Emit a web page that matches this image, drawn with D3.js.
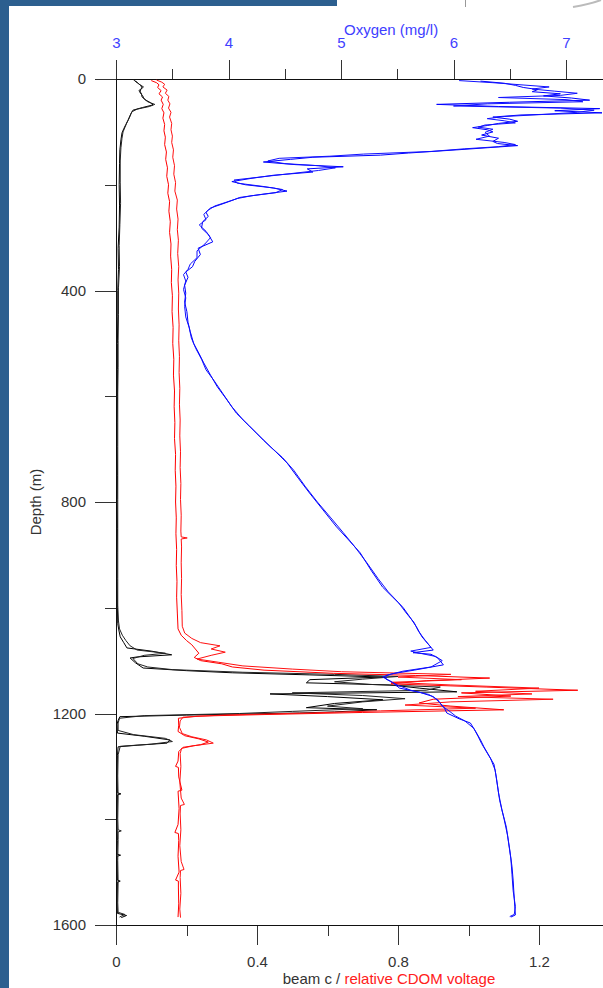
<!DOCTYPE html>
<html>
<meta charset="utf-8">
<style>
  body { margin: 0; background: #fff; }
  svg { display: block; }
  text { font-family: "Liberation Sans", Arial, sans-serif; font-size: 15px; }
  .axis path { display: none; }
  .axis line { stroke: #333; shape-rendering: crispEdges; }
  .trace { fill: none; stroke-width: 1; stroke-linejoin: miter; }
</style>
<body>
  <svg width="603" height="988"></svg>
</body>

<script src="https://cdn.jsdelivr.net/npm/d3@7"></script>

<script>

  // tick values
  var oxyMajor = [3, 4, 5, 6, 7];
  var oxyMinor = [3.5, 4.5, 5.5, 6.5];
  var beamMajor = [0, 0.4, 0.8, 1.2];
  var beamMinor = [0.2, 0.6, 1.0];
  var depthMajor = [0, 400, 800, 1200, 1600];
  var depthMinor = [200, 600, 1000, 1400];

  // [depth m, oxygen mg/l] - down cast and up cast
  var oxyDown = [[4,6.24],[8,6.45],[12,6.55],[16,6.62],[20,6.75],[24,6.70],[28,6.95],[32,6.80],[36,7.05],[40,7.21],[44,6.50],[48,5.85],[52,6.40],[56,7.30],[60,6.90],[64,7.32],[68,6.60],[72,6.35],[76,6.50],[80,6.57],[84,6.40],[88,6.30],[92,6.17],[96,6.30],[100,6.35],[106,6.25],[112,6.40],[118,6.35],[122,6.39],[126,6.57],[130,6.30],[134,6.03],[140,5.60],[144,5.35],[148,4.75],[152,4.55],[157,4.31],[162,4.60],[166,5.02],[170,4.70],[176,4.75],[182,4.40],[188,4.20],[194,4.03],[200,4.15],[206,4.40],[212,4.52],[218,4.30],[224,4.10],[229,4.04],[236,3.95],[244,3.84],[252,3.80],[260,3.82],[270,3.77],[282,3.76],[294,3.82],[308,3.86],[320,3.73],[332,3.75],[345,3.70],[355,3.68],[365,3.62],[375,3.64],[390,3.61],[405,3.62],[422,3.61],[440,3.63],[460,3.64],[478,3.66],[500,3.69],[520,3.74],[537,3.78],[560,3.84],[582,3.90],[605,3.98],[632,4.07],[655,4.18],[683,4.31],[705,4.42],[726,4.52],[755,4.62],[783,4.72],[815,4.84],[847,4.96],[870,5.06],[896,5.17],[930,5.27],[961,5.37],[980,5.46],[999,5.55],[1020,5.62],[1036,5.67],[1055,5.72],[1070,5.78],[1080,5.82],[1085,5.64],[1088,5.80],[1095,5.86],[1108,5.91],[1118,5.65],[1125,5.45],[1131,5.37],[1140,5.45],[1152,5.52],[1160,5.70],[1168,5.82],[1180,5.88],[1190,5.92],[1199,5.94],[1210,6.05],[1218,6.15],[1235,6.20],[1250,6.24],[1263,6.27],[1285,6.33],[1307,6.37],[1335,6.39],[1364,6.41],[1400,6.45],[1430,6.48],[1458,6.50],[1490,6.52],[1515,6.53],[1550,6.54],[1581,6.55],[1585,6.51]];
  var oxyUp = [[3,6.05],[7,6.35],[11,6.60],[15,6.85],[19,6.70],[23,6.90],[27,7.10],[31,6.95],[35,6.40],[39,7.00],[43,7.15],[47,6.30],[51,6.00],[55,6.95],[59,7.25],[63,7.10],[67,6.80],[71,6.45],[75,6.30],[79,6.45],[83,6.55],[87,6.28],[91,6.22],[95,6.35],[101,6.28],[108,6.32],[114,6.20],[120,6.45],[124,6.55],[128,6.40],[132,6.10],[137,5.80],[142,5.20],[146,4.90],[150,4.45],[155,4.35],[160,4.50],[164,4.80],[168,4.95],[173,4.80],[179,4.55],[185,4.30],[191,4.05],[197,4.08],[203,4.30],[209,4.48],[215,4.42],[221,4.20],[226,4.08],[233,3.98],[240,3.88],[248,3.82],[256,3.78],[266,3.80],[276,3.74],[288,3.80],[300,3.84],[312,3.79],[325,3.72],[338,3.72],[350,3.66],[360,3.64],[370,3.60],[382,3.62],[398,3.60],[414,3.62],[430,3.61],[450,3.62],[470,3.65],[490,3.67],[510,3.71],[530,3.76],[550,3.80],[570,3.87],[595,3.95],[620,4.03],[645,4.13],[670,4.25],[695,4.37],[716,4.48],[740,4.58],[770,4.68],[800,4.79],[830,4.91],[858,5.02],[884,5.12],[915,5.23],[945,5.33],[970,5.42],[990,5.51],[1010,5.58],[1028,5.65],[1045,5.69],[1062,5.75],[1075,5.80],[1082,5.62],[1086,5.70],[1092,5.84],[1100,5.90],[1112,5.80],[1120,5.55],[1128,5.40],[1135,5.40],[1146,5.50],[1156,5.62],[1164,5.78],[1174,5.86],[1186,5.90],[1195,5.96],[1205,6.02],[1214,6.10],[1228,6.18],[1244,6.22],[1257,6.25],[1275,6.30],[1296,6.36],[1320,6.38],[1350,6.40],[1382,6.43],[1415,6.47],[1445,6.49],[1475,6.51],[1505,6.52],[1535,6.53],[1565,6.55],[1580,6.54],[1584,6.50]];

  // [depth m, relative CDOM voltage]
  var cdomDown = [[3,0.100],[7,0.115],[11,0.122],[16,0.118],[22,0.128],[28,0.122],[34,0.132],[40,0.128],[48,0.134],[56,0.130],[64,0.136],[74,0.133],[86,0.138],[98,0.136],[110,0.140],[124,0.138],[138,0.143],[152,0.141],[168,0.146],[184,0.144],[200,0.149],[216,0.147],[232,0.152],[250,0.150],[270,0.154],[290,0.152],[312,0.156],[335,0.155],[360,0.158],[385,0.157],[410,0.160],[440,0.159],[470,0.162],[500,0.161],[530,0.164],[560,0.163],[590,0.166],[620,0.165],[650,0.167],[680,0.166],[710,0.169],[740,0.168],[770,0.170],[800,0.169],[830,0.171],[860,0.170],[890,0.172],[920,0.171],[950,0.173],[980,0.172],[1010,0.174],[1040,0.176],[1052,0.185],[1062,0.200],[1070,0.215],[1078,0.225],[1086,0.235],[1094,0.222],[1100,0.240],[1106,0.300],[1112,0.330],[1118,0.420],[1124,0.617],[1128,0.85],[1133,1.06],[1138,0.88],[1144,0.78],[1150,1.05],[1156,1.31],[1161,0.98],[1167,1.12],[1173,0.90],[1180,0.86],[1186,0.95],[1193,1.10],[1198,0.70],[1202,0.42],[1205,0.23],[1209,0.177],[1222,0.178],[1234,0.176],[1242,0.195],[1248,0.235],[1254,0.262],[1259,0.240],[1264,0.190],[1272,0.178],[1290,0.176],[1300,0.169],[1302,0.177],[1320,0.178],[1345,0.187],[1347,0.176],[1380,0.179],[1410,0.176],[1425,0.167],[1427,0.177],[1440,0.178],[1470,0.176],[1500,0.179],[1515,0.169],[1517,0.177],[1530,0.177],[1560,0.178],[1585,0.176]];
  var cdomUp = [[2,0.115],[6,0.130],[10,0.138],[15,0.133],[21,0.145],[27,0.140],[33,0.150],[40,0.147],[47,0.153],[55,0.149],[63,0.156],[72,0.152],[84,0.158],[96,0.156],[108,0.160],[120,0.158],[134,0.163],[148,0.161],[164,0.166],[180,0.164],[196,0.169],[212,0.167],[229,0.174],[246,0.172],[265,0.176],[285,0.174],[305,0.177],[330,0.175],[355,0.178],[380,0.176],[405,0.178],[435,0.177],[465,0.179],[495,0.178],[525,0.180],[555,0.179],[585,0.181],[615,0.180],[645,0.182],[675,0.181],[705,0.183],[735,0.182],[765,0.184],[795,0.183],[825,0.185],[855,0.184],[866,0.185],[868,0.202],[870,0.185],[885,0.186],[915,0.185],[945,0.186],[975,0.185],[1005,0.187],[1035,0.188],[1048,0.195],[1058,0.215],[1066,0.240],[1072,0.295],[1078,0.270],[1084,0.310],[1090,0.270],[1097,0.230],[1103,0.290],[1110,0.360],[1116,0.500],[1121,0.640],[1126,0.95],[1131,0.80],[1136,0.98],[1141,0.78],[1146,0.95],[1152,1.20],[1158,1.02],[1163,1.18],[1168,0.97],[1173,1.24],[1178,0.95],[1184,0.82],[1190,1.02],[1195,0.75],[1199,0.55],[1203,0.30],[1207,0.190],[1214,0.182],[1226,0.180],[1238,0.188],[1244,0.215],[1250,0.257],[1256,0.276],[1261,0.220],[1266,0.186],[1276,0.182],[1300,0.184],[1330,0.181],[1360,0.185],[1372,0.194],[1374,0.183],[1390,0.182],[1420,0.184],[1450,0.181],[1480,0.185],[1495,0.193],[1497,0.183],[1510,0.182],[1540,0.184],[1570,0.181],[1586,0.183]];

  // [depth m, beam c]
  var beamDown = [[4,0.054],[8,0.062],[12,0.070],[17,0.074],[22,0.065],[27,0.072],[34,0.074],[40,0.085],[45,0.098],[49,0.105],[54,0.075],[59,0.048],[66,0.042],[72,0.038],[78,0.034],[86,0.028],[94,0.022],[102,0.017],[115,0.014],[134,0.011],[160,0.010],[200,0.009],[240,0.010],[280,0.009],[320,0.006],[360,0.007],[400,0.005],[450,0.005],[500,0.004],[550,0.004],[600,0.004],[650,0.003],[700,0.003],[750,0.004],[800,0.003],[850,0.004],[900,0.003],[950,0.003],[1000,0.004],[1030,0.005],[1042,0.008],[1055,0.012],[1066,0.022],[1076,0.031],[1082,0.100],[1089,0.158],[1093,0.060],[1095,0.040],[1104,0.055],[1114,0.077],[1119,0.20],[1123,0.33],[1127,0.55],[1131,0.757],[1136,0.55],[1142,0.54],[1146,0.777],[1152,0.86],[1159,0.967],[1163,0.437],[1168,0.60],[1174,0.757],[1181,0.62],[1189,0.54],[1193,0.74],[1197,0.62],[1199,0.52],[1203,0.20],[1206,0.011],[1213,0.006],[1220,0.003],[1237,0.004],[1243,0.080],[1250,0.153],[1256,0.145],[1260,0.060],[1263,0.006],[1280,0.004],[1320,0.003],[1350,0.004],[1352,0.014],[1354,0.004],[1400,0.003],[1440,0.004],[1466,0.003],[1468,0.013],[1470,0.003],[1515,0.004],[1517,0.012],[1519,0.004],[1560,0.003],[1578,0.004],[1582,0.030],[1586,0.015]];
  var beamUp = [[2,0.050],[6,0.060],[10,0.066],[15,0.078],[20,0.070],[26,0.068],[32,0.076],[38,0.080],[43,0.090],[48,0.110],[52,0.095],[57,0.060],[62,0.045],[70,0.040],[76,0.036],[84,0.030],[92,0.025],[100,0.020],[112,0.017],[130,0.014],[155,0.012],[195,0.012],[235,0.013],[275,0.011],[315,0.009],[355,0.010],[395,0.007],[445,0.007],[495,0.006],[545,0.006],[595,0.005],[645,0.005],[695,0.005],[745,0.005],[795,0.005],[845,0.005],[895,0.005],[945,0.005],[995,0.005],[1025,0.007],[1040,0.010],[1052,0.018],[1062,0.028],[1072,0.040],[1080,0.060],[1086,0.140],[1090,0.080],[1096,0.048],[1106,0.062],[1112,0.090],[1117,0.16],[1122,0.36],[1126,0.62],[1130,0.80],[1135,0.70],[1140,0.62],[1145,0.72],[1150,0.92],[1156,0.88],[1161,0.50],[1166,0.70],[1172,0.82],[1178,0.70],[1186,0.60],[1191,0.70],[1196,0.50],[1200,0.35],[1204,0.08],[1209,0.010],[1218,0.006],[1232,0.006],[1240,0.050],[1247,0.140],[1253,0.160],[1258,0.100],[1262,0.012],[1278,0.006],[1318,0.005],[1358,0.006],[1398,0.005],[1420,0.006],[1422,0.015],[1424,0.006],[1438,0.006],[1478,0.005],[1518,0.006],[1558,0.005],[1576,0.006],[1580,0.025],[1585,0.010]];

  var svg = d3.select("svg");

  // window frame pieces
  svg.append("rect").attr("x", 0).attr("y", 0).attr("width", 9).attr("height", 988).attr("fill", "#2c5f8f");
  svg.append("rect").attr("x", 0).attr("y", 0).attr("width", 337).attr("height", 6).attr("fill", "#2c5f8f");
  svg.append("line").attr("x1", 465.5).attr("x2", 465.5).attr("y1", 0).attr("y2", 7).attr("stroke", "#999");
  svg.append("path").attr("d", "M573,7 Q590,4 601,0").attr("fill", "none").attr("stroke", "#bbb").attr("stroke-width", 2);

  var yScale = d3.scaleLinear().domain([0, 1600]).range([79, 925]);
  var oxyScale = d3.scaleLinear().domain([3, 7]).range([116, 566]);
  var beamScale = d3.scaleLinear().domain([0, 1.2]).range([116, 539]);

  //AXES
  var gTop = svg.append("g").attr("class", "axis").attr("transform", "translate(0,79)");
  gTop.call(d3.axisTop(oxyScale).tickValues(oxyMajor).tickSize(19).tickPadding(12).tickFormat(d3.format("d")));
  gTop.append("g").call(d3.axisTop(oxyScale).tickValues(oxyMinor).tickSize(10).tickFormat(""));
  gTop.selectAll("text").attr("fill", "#4040ff");

  var gBot = svg.append("g").attr("class", "axis").attr("transform", "translate(0,925)");
  gBot.call(d3.axisBottom(beamScale).tickValues(beamMajor).tickSize(20).tickPadding(11).tickFormat(function(d){ return d === 0 ? "0" : d3.format(".1f")(d); }));
  gBot.append("g").call(d3.axisBottom(beamScale).tickValues(beamMinor).tickSize(11).tickFormat(""));
  gBot.selectAll("text").attr("fill", "#333");

  var gLeft = svg.append("g").attr("class", "axis").attr("transform", "translate(116,0)");
  gLeft.call(d3.axisLeft(yScale).tickValues(depthMajor).tickSize(21).tickPadding(9).tickFormat(d3.format("d")));
  gLeft.append("g").call(d3.axisLeft(yScale).tickValues(depthMinor).tickSize(11).tickFormat(""));
  gLeft.selectAll("text").attr("fill", "#333");

  // axis lines
  svg.append("line").attr("x1", 116).attr("x2", 603).attr("y1", 79.5).attr("y2", 79.5).attr("stroke", "#111");
  svg.append("line").attr("x1", 116).attr("x2", 603).attr("y1", 925.5).attr("y2", 925.5).attr("stroke", "#111");
  svg.append("line").attr("x1", 116.5).attr("x2", 116.5).attr("y1", 79).attr("y2", 926).attr("stroke", "#111");

  // titles
  svg.append("text").attr("x", 344).attr("y", 35).attr("fill", "#4040ff").text("Oxygen (mg/l)");
  svg.append("text").attr("transform", "translate(41,502) rotate(-90)").attr("text-anchor", "middle").attr("fill", "#333").text("Depth (m)");
  var bt = svg.append("text").attr("x", 389).attr("y", 984).attr("text-anchor", "middle");
  bt.append("tspan").attr("fill", "#333").text("beam c / ");
  bt.append("tspan").attr("fill", "#ff2020").text("relative CDOM voltage");

  //TRACES
  function traceLine(xs) {
    return d3.line().x(function(d){ return xs(d[1]); }).y(function(d){ return yScale(d[0]); });
  }

  var traces = [
    {data: beamDown, scale: beamScale, color: "#000"},
    {data: beamUp, scale: beamScale, color: "#222"},
    {data: cdomDown, scale: beamScale, color: "#ff0000"},
    {data: cdomUp, scale: beamScale, color: "#ff1010"},
    {data: oxyDown, scale: oxyScale, color: "#0000ff"},
    {data: oxyUp, scale: oxyScale, color: "#1010ff"}
  ];

  svg.selectAll("path.trace").data(traces).enter()
    .append("path")
    .attr("class", "trace")
    .attr("stroke", function(d){ return d.color; })
    .attr("d", function(d){ return traceLine(d.scale)(d.data); });

</script>
</html>
